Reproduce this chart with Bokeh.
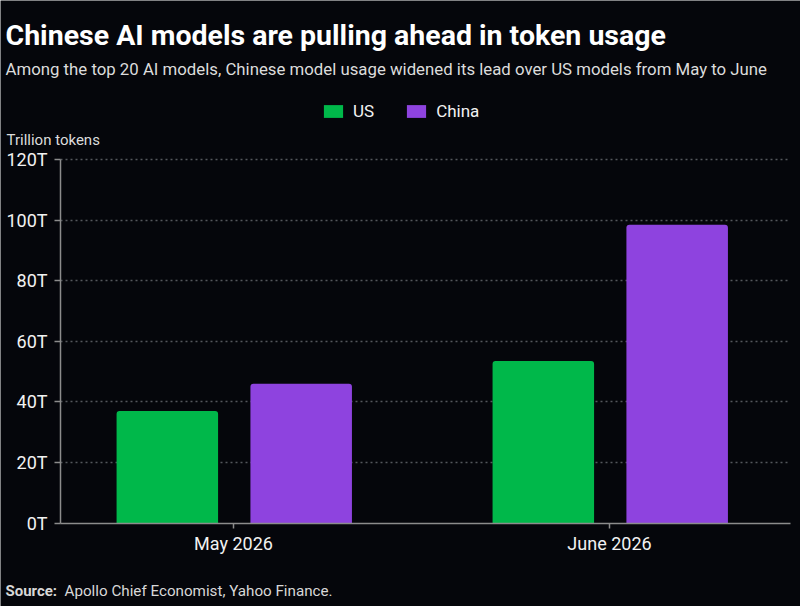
from bokeh.plotting import figure
from bokeh.models import (ColumnDataSource, Range1d, FixedTicker, PrintfTickFormatter,
                          Label, Legend, LegendItem)
from bokeh.transform import dodge
from bokeh.embed import file_html
from bokeh.resources import INLINE

# Data: trillion tokens used by the top 20 AI models, by origin
months = ["May 2026", "June 2026"]
us_tokens = [37, 53.5]
china_tokens = [46, 98.5]
y_ticks = [0, 20, 40, 60, 80, 100, 120]

BG = "#05060b"
GREEN = "#00b84a"
PURPLE = "#8e43df"
TEXT = "#f2f2f2"
FONT = "Roboto"

W, H = 800, 606
# The plot frame fills the whole canvas; the chart area sits inside it and the
# axes are pinned to the data edges, so headline texts can share the frame.
X0, X1 = -0.46, 1.481      # visible category span (axis extent)
Y0, Y1 = 0, 120            # value span (axis extent)

src = ColumnDataSource(dict(x=list(range(len(months))), us=us_tokens, china=china_tokens))

p = figure(width=W, height=H, output_backend="svg", toolbar_location=None,
           x_range=Range1d(-0.6197, 1.508), y_range=Range1d(-27.56, 172.5),
           min_border=0, title_location=None)
p.background_fill_color = BG
p.border_fill_color = BG
p.outline_line_color = None

us_r = p.vbar(x=dodge("x", -0.176, range=p.x_range), top="us", width=0.27, source=src,
              fill_color=GREEN, line_color=None, border_radius=(3, 3, 0, 0))
cn_r = p.vbar(x=dodge("x", 0.18, range=p.x_range), top="china", width=0.27, source=src,
              fill_color=PURPLE, line_color=None, border_radius=(3, 3, 0, 0))

# grid
p.xgrid.visible = False
p.ygrid.grid_line_color = "#55575d"
p.ygrid.grid_line_dash = "2 3"
p.ygrid.grid_line_width = 1.3
p.ygrid.ticker = FixedTicker(ticks=y_ticks[1:])
p.ygrid.bounds = (Y0, Y1)
p.ygrid.cross_bounds = (X0, X1)

# axes
p.yaxis.fixed_location = X0
p.yaxis.bounds = (Y0, Y1)
p.yaxis.ticker = FixedTicker(ticks=y_ticks)
p.yaxis.formatter = PrintfTickFormatter(format="%dT")
p.yaxis.minor_tick_line_color = None
p.yaxis.major_tick_in = 0
p.yaxis.major_tick_out = 6
p.yaxis.major_label_standoff = 7

p.xaxis.fixed_location = Y0
p.xaxis.bounds = (X0, X1)
p.xaxis.ticker = FixedTicker(ticks=list(range(len(months))))
p.xaxis.major_label_overrides = {i: m for i, m in enumerate(months)}
p.xaxis.minor_tick_line_color = None
p.xaxis.major_tick_in = 0
p.xaxis.major_tick_out = 5
p.xaxis.major_label_standoff = 5

for ax in (p.xaxis[0], p.yaxis[0]):
    ax.axis_line_color = "#8c8c8c"
    ax.axis_line_width = 1.5
    ax.major_tick_line_color = "#8c8c8c"
    ax.major_tick_line_width = 1.5
    ax.major_label_text_color = TEXT
    ax.major_label_text_font = FONT
    ax.major_label_text_font_size = "18px"


# headline and footer texts (screen pixels from the bottom-left corner)
def label(text, x, y, size, color=TEXT, style="normal"):
    p.add_layout(Label(x=x, y=y, x_units="screen", y_units="screen", text=text,
                       text_font=FONT, text_font_size=size, text_color=color,
                       text_font_style=style, text_baseline="alphabetic"))


label("Chinese AI models are pulling ahead in token usage", 5, H - 35, "28.5px",
      color="#ffffff", style="bold")
label("Among the top 20 AI models, Chinese model usage widened its lead over US models from May to June",
      5, H - 68, "16.8px", color="#dcdcdc")
label("Trillion tokens", 6, H - 139, "15px", color="#dcdcdc")
label("Source:", 5, H - 590, "15px", color="#d8d8d8", style="bold")
label("Apollo Chief Economist, Yahoo Finance.", 64, H - 590, "15.2px", color="#d8d8d8")

# legend
legend = Legend(items=[LegendItem(label="US", renderers=[us_r]),
                       LegendItem(label="China", renderers=[cn_r])],
                orientation="horizontal", location=(321, H - 121),
                background_fill_alpha=0, border_line_color=None,
                padding=0, margin=0, spacing=30,
                glyph_width=24, glyph_height=16, label_standoff=8,
                label_text_color=TEXT, label_text_font=FONT, label_text_font_size="17px")
p.add_layout(legend)

open("out.html", "w").write(file_html(p, INLINE))
